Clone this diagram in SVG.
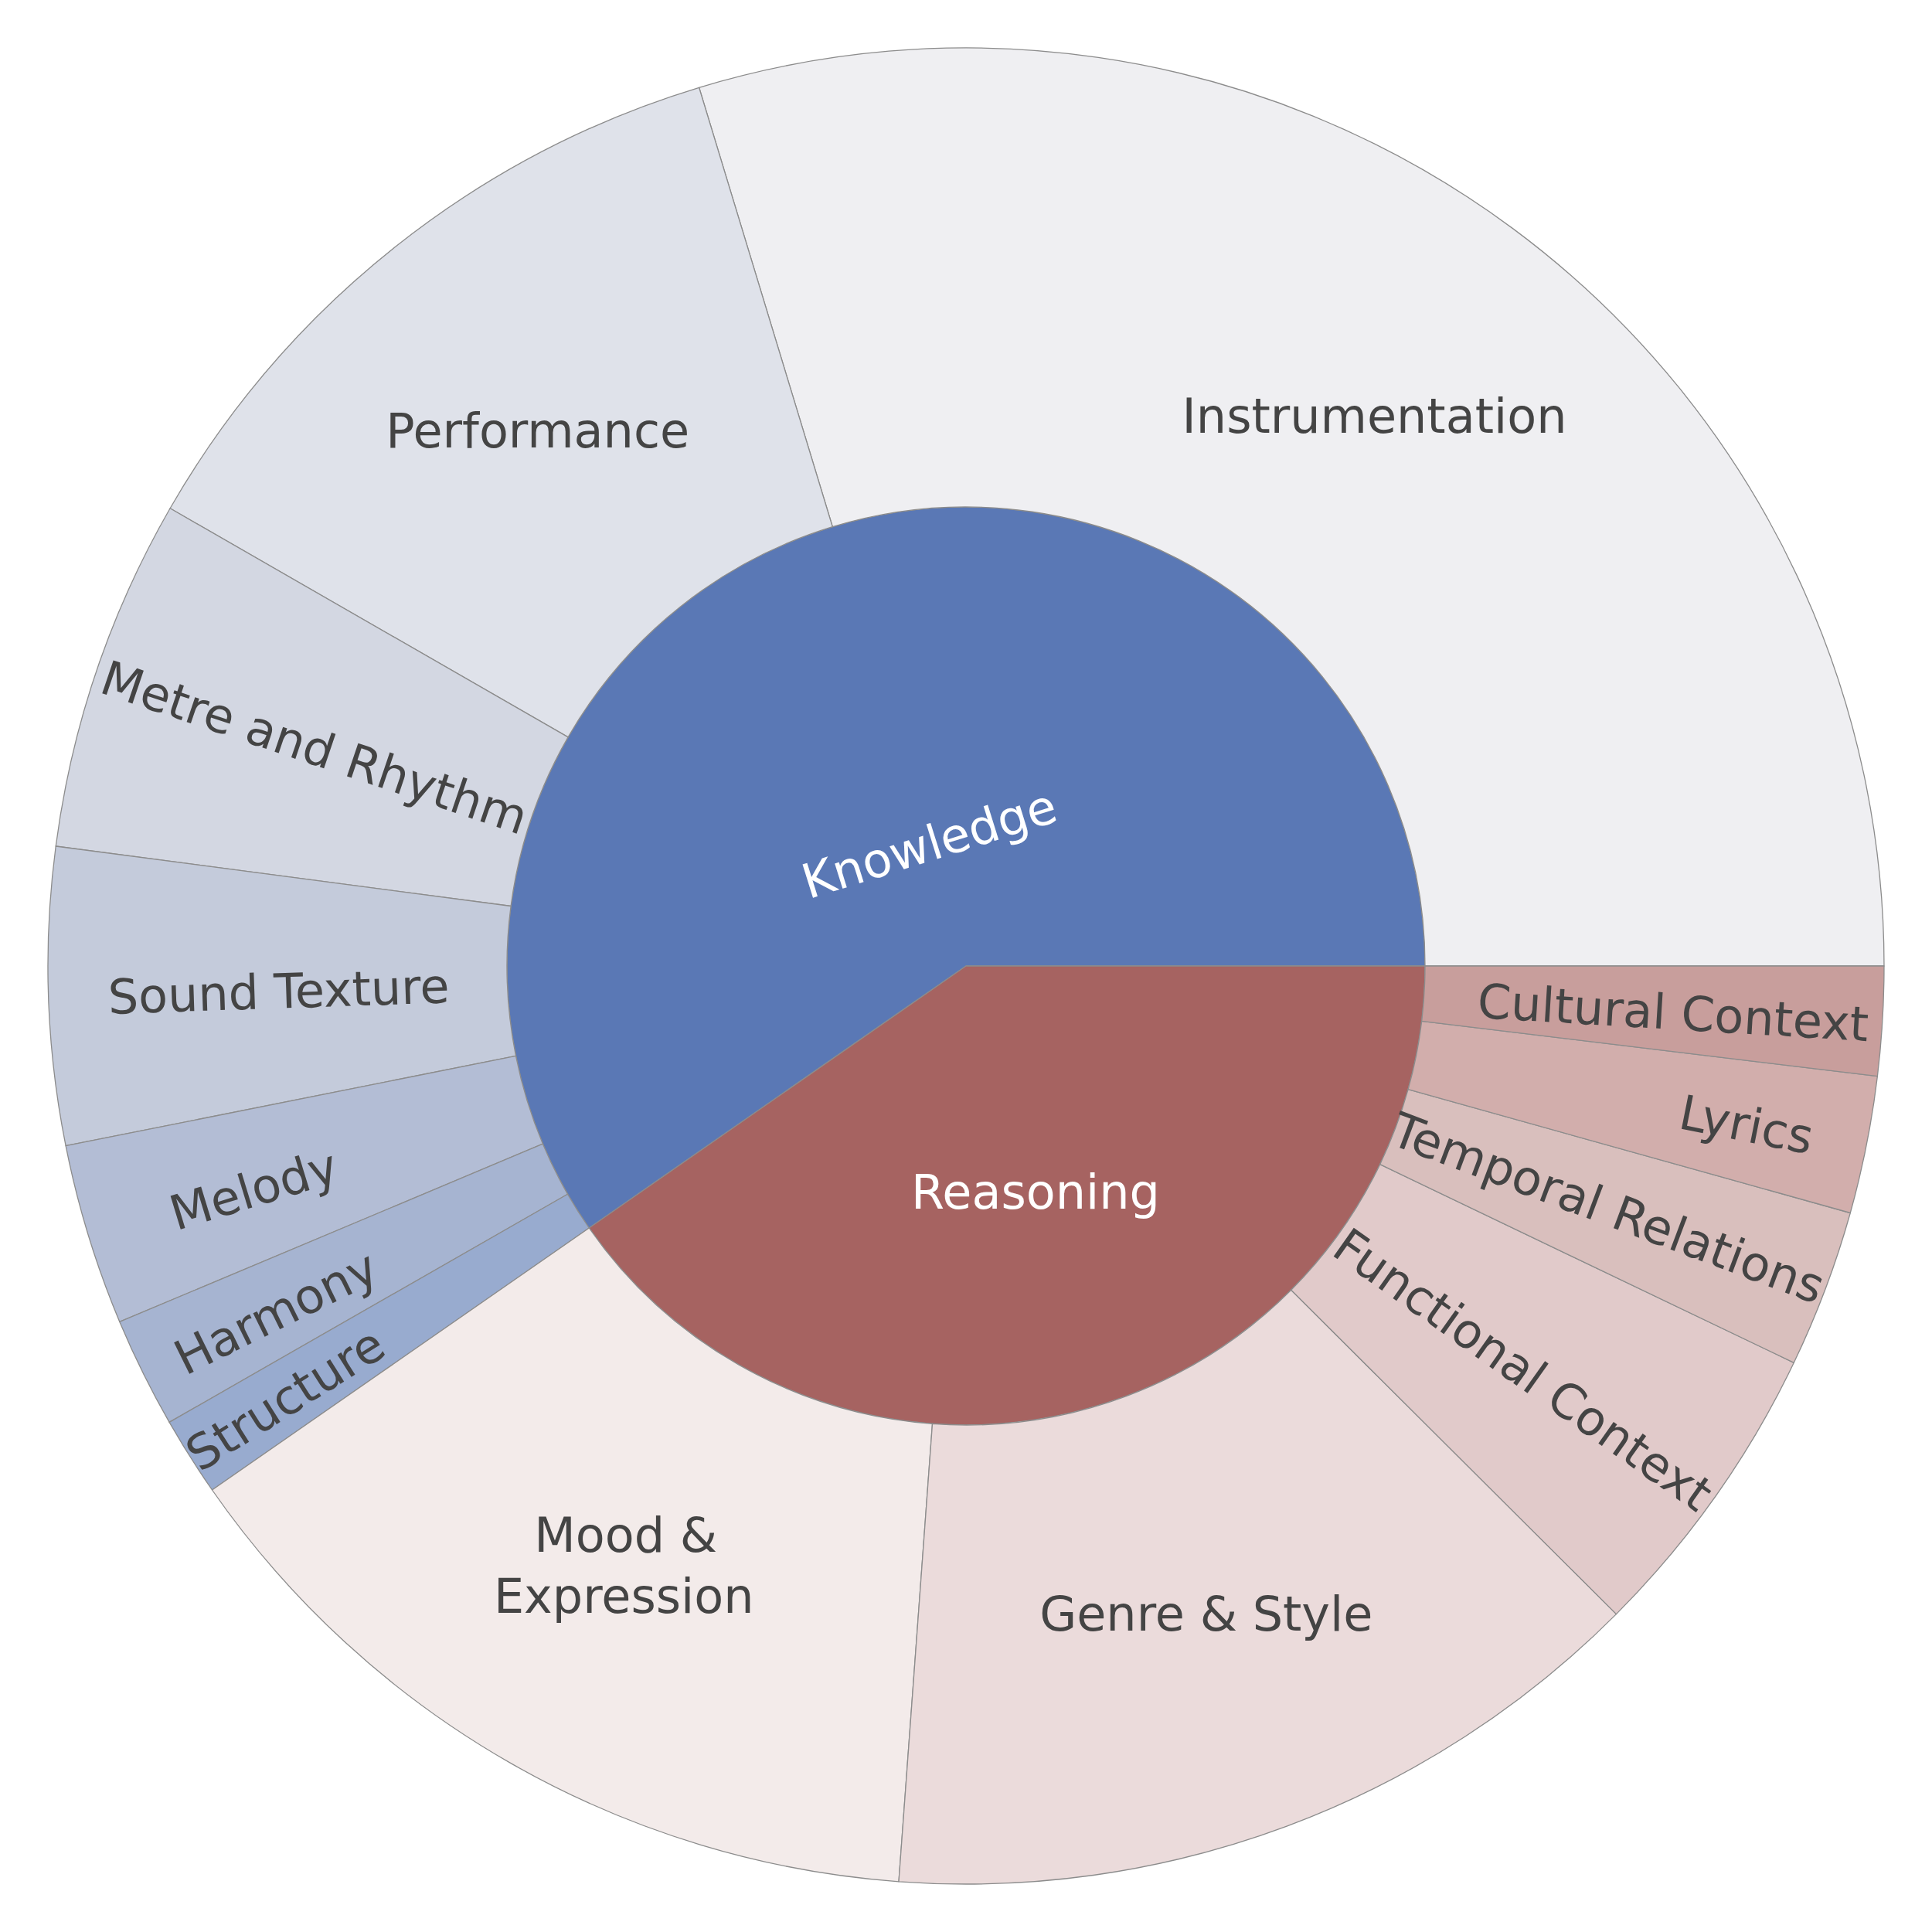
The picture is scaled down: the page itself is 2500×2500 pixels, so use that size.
<svg xmlns="http://www.w3.org/2000/svg" width="2500" height="2500" viewBox="0 0 2500 2500">
<style>
.s{stroke:#8c8c8c;stroke-width:1.3;stroke-linejoin:round}
.t{font-family:"DejaVu Sans","Verdana",sans-serif;font-size:62px;fill:#444;text-anchor:middle}
.w{fill:#fff}
</style>
<rect width="2500" height="2500" fill="#fff"/>
<g id="node-knowledge">
<path class="s" fill="#5A78B5" d="M1250 1250 L1844 1250 A594 594 0 1 0 762.3 1589 Z"/>
<text class="t w" transform="translate(1202.3 1091.6) rotate(-17.4)" x="0" y="22">Knowledge</text>
</g>
<g id="node-reasoning">
<path class="s" fill="#A66361" d="M1250 1250 L762.3 1589 A594 594 0 0 0 1844 1250 Z"/>
<text class="t w" x="1340" y="1564">Reasoning</text>
</g>
<g id="node-instrumentation">
<path class="s" fill="#EFEFF2" d="M2438 1250 A1188 1188 0 0 0 904.6 113.3 L1077.3 681.7 A594 594 0 0 1 1844 1250 Z"/>
<text class="t" x="1778.5" y="560">Instrumentation</text>
</g>
<g id="node-performance">
<path class="s" fill="#DFE2EA" d="M904.6 113.3 A1188 1188 0 0 0 220.1 657.8 L735.1 953.9 A594 594 0 0 1 1077.3 681.7 Z"/>
<text class="t" x="695.7" y="579">Performance</text>
</g>
<g id="node-metre">
<path class="s" fill="#D3D7E2" d="M220.1 657.8 A1188 1188 0 0 0 72.2 1095 L661.1 1172.5 A594 594 0 0 1 735.1 953.9 Z"/>
<text class="t" transform="translate(407 967) rotate(18.7)" x="0" y="22">Metre and Rhythm</text>
</g>
<g id="node-sound-texture">
<path class="s" fill="#C4CBDB" d="M72.2 1095 A1188 1188 0 0 0 85.1 1482.7 L667.5 1366.4 A594 594 0 0 1 661.1 1172.5 Z"/>
<text class="t" transform="translate(360.5 1282.6) rotate(-1.9)" x="0" y="22">Sound Texture</text>
</g>
<g id="node-melody">
<path class="s" fill="#B3BDD5" d="M85.1 1482.7 A1188 1188 0 0 0 154.8 1710.4 L702.4 1480.2 A594 594 0 0 1 667.5 1366.4 Z"/>
<text class="t" transform="translate(328 1539) rotate(-17)" x="0" y="22">Melody</text>
</g>
<g id="node-harmony">
<path class="s" fill="#A6B4D1" d="M154.8 1710.4 A1188 1188 0 0 0 219.1 1840.4 L734.5 1545.2 A594 594 0 0 1 702.4 1480.2 Z"/>
<text class="t" transform="translate(357 1698) rotate(-26.3)" x="0" y="22">Harmony</text>
</g>
<g id="node-structure">
<path class="s" fill="#98ABCF" d="M219.1 1840.4 A1188 1188 0 0 0 274.5 1928 L762.3 1589 A594 594 0 0 1 734.5 1545.2 Z"/>
<text class="t" transform="translate(369 1810) rotate(-32.3)" x="0" y="22">Structure</text>
</g>
<g id="node-mood">
<path class="s" fill="#F3EBEA" d="M274.5 1928 A1188 1188 0 0 0 1163 2434.8 L1206.5 1842.4 A594 594 0 0 1 762.3 1589 Z"/>
<text class="t" x="809.7" y="2008.3">Mood &amp;</text>
<text class="t" x="807.2" y="2087.3">Expression</text>
</g>
<g id="node-genre">
<path class="s" fill="#EBDBDB" d="M1163 2434.8 A1188 1188 0 0 0 2091.5 2088.6 L1670.7 1669.3 A594 594 0 0 1 1206.5 1842.4 Z"/>
<text class="t" x="1560.8" y="2110">Genre &amp; Style</text>
</g>
<g id="node-functional">
<path class="s" fill="#E1CACA" d="M2091.5 2088.6 A1188 1188 0 0 0 2321.3 1763.3 L1785.7 1506.7 A594 594 0 0 1 1670.7 1669.3 Z"/>
<text class="t" transform="translate(1971 1772) rotate(35.25)" x="0" y="22">Functional Context</text>
</g>
<g id="node-temporal">
<path class="s" fill="#D9BFBD" d="M2321.3 1763.3 A1188 1188 0 0 0 2394.3 1569.5 L1822.1 1409.7 A594 594 0 0 1 1785.7 1506.7 Z"/>
<text class="t" transform="translate(2081 1563) rotate(20.6)" x="0" y="22" textLength="592" lengthAdjust="spacingAndGlyphs">Temporal Relations</text>
</g>
<g id="node-lyrics">
<path class="s" fill="#D2AEAC" d="M2394.3 1569.5 A1188 1188 0 0 0 2429.4 1392.7 L1839.7 1321.3 A594 594 0 0 1 1822.1 1409.7 Z"/>
<text class="t" transform="translate(2260 1455) rotate(11.25)" x="0" y="22">Lyrics</text>
</g>
<g id="node-cultural">
<path class="s" fill="#C89E9C" d="M2429.4 1392.7 A1188 1188 0 0 0 2438 1250 L1844 1250 A594 594 0 0 1 1839.7 1321.3 Z"/>
<text class="t" transform="translate(2165 1310) rotate(3.45)" x="0" y="22">Cultural Context</text>
</g>
</svg>
